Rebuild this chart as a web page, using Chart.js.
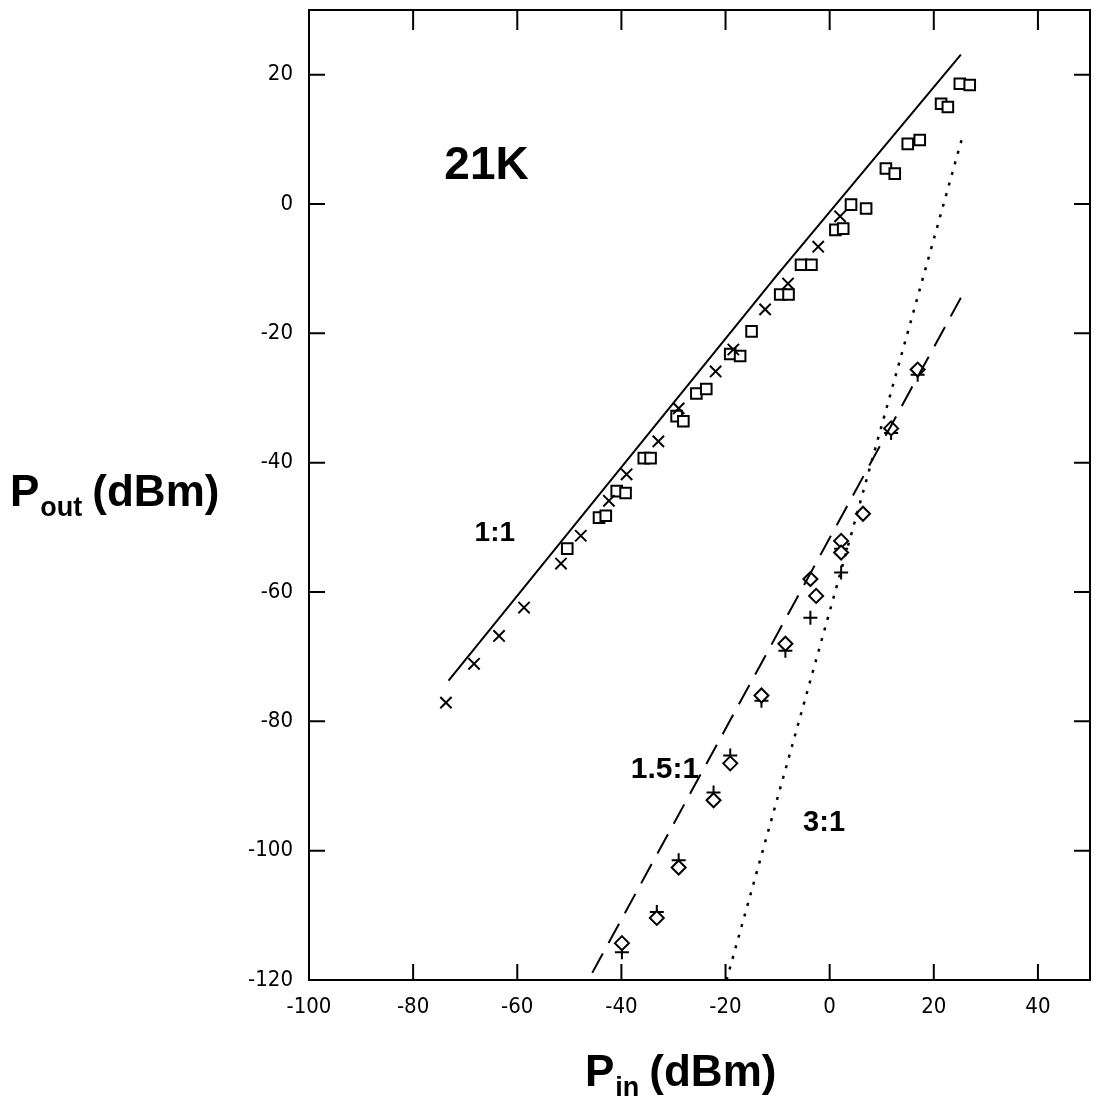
<!DOCTYPE html>
<html>
<head>
<meta charset="utf-8">
<script src="https://cdn.jsdelivr.net/npm/chart.js@4/dist/chart.umd.min.js"></script>
<style>
  html, body { margin: 0; padding: 0; background: #fff; }
</style>
</head>
<body>
<canvas id="pout" width="1100" height="1120"></canvas>
<script>
// measured points, 21K
let crossX = [-73.7, -68.3, -63.5, -58.7, -51.6, -47.8, -42.4, -39.0, -32.9, -29.0, -21.9, -18.5, -12.4, -8.0, -2.2, 2.0];
let crossY = [-77.1, -71.1, -66.8, -62.4, -55.6, -51.3, -45.9, -41.8, -36.7, -31.6, -25.9, -22.5, -16.3, -12.3, -6.6, -1.9];

let squareX = [-50.4, -44.3, -43.0, -40.9, -39.2, -35.7, -34.4, -29.4, -28.1, -25.6, -23.7, -19.1, -17.2, -15.0,
    -9.5, -7.9, -5.5, -3.5, 1.1, 2.6, 4.1, 7.0, 10.8, 12.5, 15.0, 17.3, 21.4, 22.7, 25.0, 26.9];
let squareY = [-53.3, -48.5, -48.2, -44.4, -44.7, -39.3, -39.3, -32.8, -33.6, -29.3, -28.6, -23.2, -23.5, -19.7,
    -14.0, -14.0, -9.4, -9.4, -4.0, -3.8, -0.1, -0.7, 5.5, 4.7, 9.3, 9.9, 15.5, 15.0, 18.6, 18.4];

let diamondX = [16.9, 11.8, 6.4, 2.2, 2.2, -3.7, -2.6, -8.5, -13.1, -19.1, -22.3, -29.0, -33.2, -39.9];
let diamondY = [-25.6, -34.7, -47.9, -52.1, -53.9, -58.0, -60.6, -68.0, -76.0, -86.5, -92.2, -102.6, -110.4, -114.3];

let plusX = [16.9, 11.8, 2.2, 2.2, -3.7, -8.5, -13.1, -19.1, -22.3, -29.0, -33.2, -39.9];
let plusY = [-26.4, -35.4, -53.3, -57.0, -64.0, -69.1, -76.8, -85.3, -91.0, -101.5, -109.5, -115.7];

// fitted lines
let oneX = [-73.2, -10.0, 25.2];
let oneY = [-73.7, -10.9, 23.1];
let halfX = [-45.6, 25.2];
let halfY = [-118.9, -14.5];
let thirdX = [-19.8, 25.5];
let thirdY = [-120.0, 10.4];

let xTicks = [-100, -80, -60, -40, -20, 0, 20, 40];
let yTicks = [-120, -100, -80, -60, -40, -20, 0, 20];

function pts(xs, ys) {
    return xs.map((x, i) => ({ x: x, y: ys[i] }));
}

// text put on the plot (data coords of the left end of the baseline)
const notes = [
    { text: '21K', x: -74.0, y: 3.8, size: 46 },
    { text: '1:1', x: -68.2, y: -52.1, size: 28 },
    { text: '1.5:1', x: -38.2, y: -88.8, size: 30 },
    { text: '3:1', x: -5.1, y: -96.9, size: 29 }
];

const frame = {
    id: 'frame',
    afterDraw(chart) {
        const ctx = chart.ctx;
        const a = chart.chartArea;
        const xs = chart.scales.x;
        const ys = chart.scales.y;
        ctx.save();
        ctx.strokeStyle = '#000';
        ctx.lineWidth = 2;
        ctx.strokeRect(a.left, a.top, a.right - a.left, a.bottom - a.top);
        ctx.beginPath();
        xTicks.forEach(v => {
            if (v === -100) return;
            const px = xs.getPixelForValue(v);
            ctx.moveTo(px, a.bottom); ctx.lineTo(px, a.bottom - 16);
            ctx.moveTo(px, a.top); ctx.lineTo(px, a.top + 20);
        });
        yTicks.forEach(v => {
            if (v === -120) return;
            const py = ys.getPixelForValue(v);
            ctx.moveTo(a.left, py); ctx.lineTo(a.left + 16, py);
            ctx.moveTo(a.right, py); ctx.lineTo(a.right - 16, py);
        });
        ctx.stroke();

        ctx.fillStyle = '#000';
        ctx.textBaseline = 'alphabetic';
        ctx.textAlign = 'left';
        notes.forEach(n => {
            ctx.font = 'bold ' + n.size + 'px "Liberation Sans", Arial, sans-serif';
            ctx.fillText(n.text, xs.getPixelForValue(n.x), ys.getPixelForValue(n.y));
        });

        // axis titles with subscripts
        const big = 'bold 44px "Liberation Sans", Arial, sans-serif';
        const sub = 'bold 27px "Liberation Sans", Arial, sans-serif';
        let x0 = 10, base = 506;
        ctx.font = big; ctx.fillText('P', x0, base);
        x0 += ctx.measureText('P').width + 1;
        ctx.font = sub; ctx.fillText('out', x0, base + 10);
        x0 += ctx.measureText('out').width + 10;
        ctx.font = big; ctx.fillText('(dBm)', x0, base);

        x0 = 585; base = 1086;
        ctx.font = big; ctx.fillText('P', x0, base);
        x0 += ctx.measureText('P').width + 1;
        ctx.font = sub; ctx.fillText('in', x0, base + 10);
        x0 += ctx.measureText('in').width + 10;
        ctx.font = big; ctx.fillText('(dBm)', x0, base);
        ctx.restore();
    }
};

Chart.defaults.font.family = '"Liberation Sans Narrow", "DejaVu Sans Condensed", sans-serif';
Chart.defaults.color = '#000';

const data = {
    datasets: [
        { type: 'line', data: pts(oneX, oneY), borderColor: '#000', borderWidth: 2, pointRadius: 0, fill: false, tension: 0 },
        { type: 'line', data: pts(halfX, halfY), borderColor: '#000', borderWidth: 2, borderDash: [22, 12], pointRadius: 0, fill: false },
        { type: 'line', data: pts(thirdX, thirdY), borderColor: '#000', borderWidth: 2.5, borderDash: [3, 8], pointRadius: 0, fill: false },
        { data: pts(crossX, crossY), pointStyle: 'crossRot', pointRadius: 8, borderColor: '#000', borderWidth: 2 },
        { data: pts(squareX, squareY), pointStyle: 'rect', pointRadius: 7.5, borderColor: '#000', backgroundColor: '#fff', borderWidth: 2 },
        { data: pts(diamondX, diamondY), pointStyle: 'rectRot', pointRadius: 7, borderColor: '#000', backgroundColor: '#fff', borderWidth: 2 },
        { data: pts(plusX, plusY), pointStyle: 'cross', pointRadius: 7, borderColor: '#000', borderWidth: 2 }
    ]
};

const config = {
    type: 'scatter',
    data: data,
    options: {
        responsive: false,
        animation: false,
        layout: { padding: { left: 249, right: 7, top: 8, bottom: 80 } },
        plugins: { legend: { display: false }, tooltip: { enabled: false } },
        scales: {
            x: {
                type: 'linear', min: -100, max: 50,
                grid: { display: false }, border: { display: false },
                ticks: { stepSize: 20, padding: 6, font: { size: 22 }, maxRotation: 0 },
                afterBuildTicks: s => { s.ticks = xTicks.map(v => ({ value: v })); },
                afterFit: s => { s.height = 60; s.paddingLeft = 0; s.paddingRight = 0; }
            },
            y: {
                type: 'linear', min: -120, max: 30,
                grid: { display: false }, border: { display: false },
                ticks: { stepSize: 20, padding: 8, font: { size: 22 } },
                afterBuildTicks: s => { s.ticks = yTicks.map(v => ({ value: v })); },
                afterFit: s => { s.width = 60; s.paddingTop = 0; s.paddingBottom = 0; }
            }
        }
    },
    plugins: [frame]
};

const chart = new Chart(document.getElementById('pout'), config);
</script>
</body>
</html>
